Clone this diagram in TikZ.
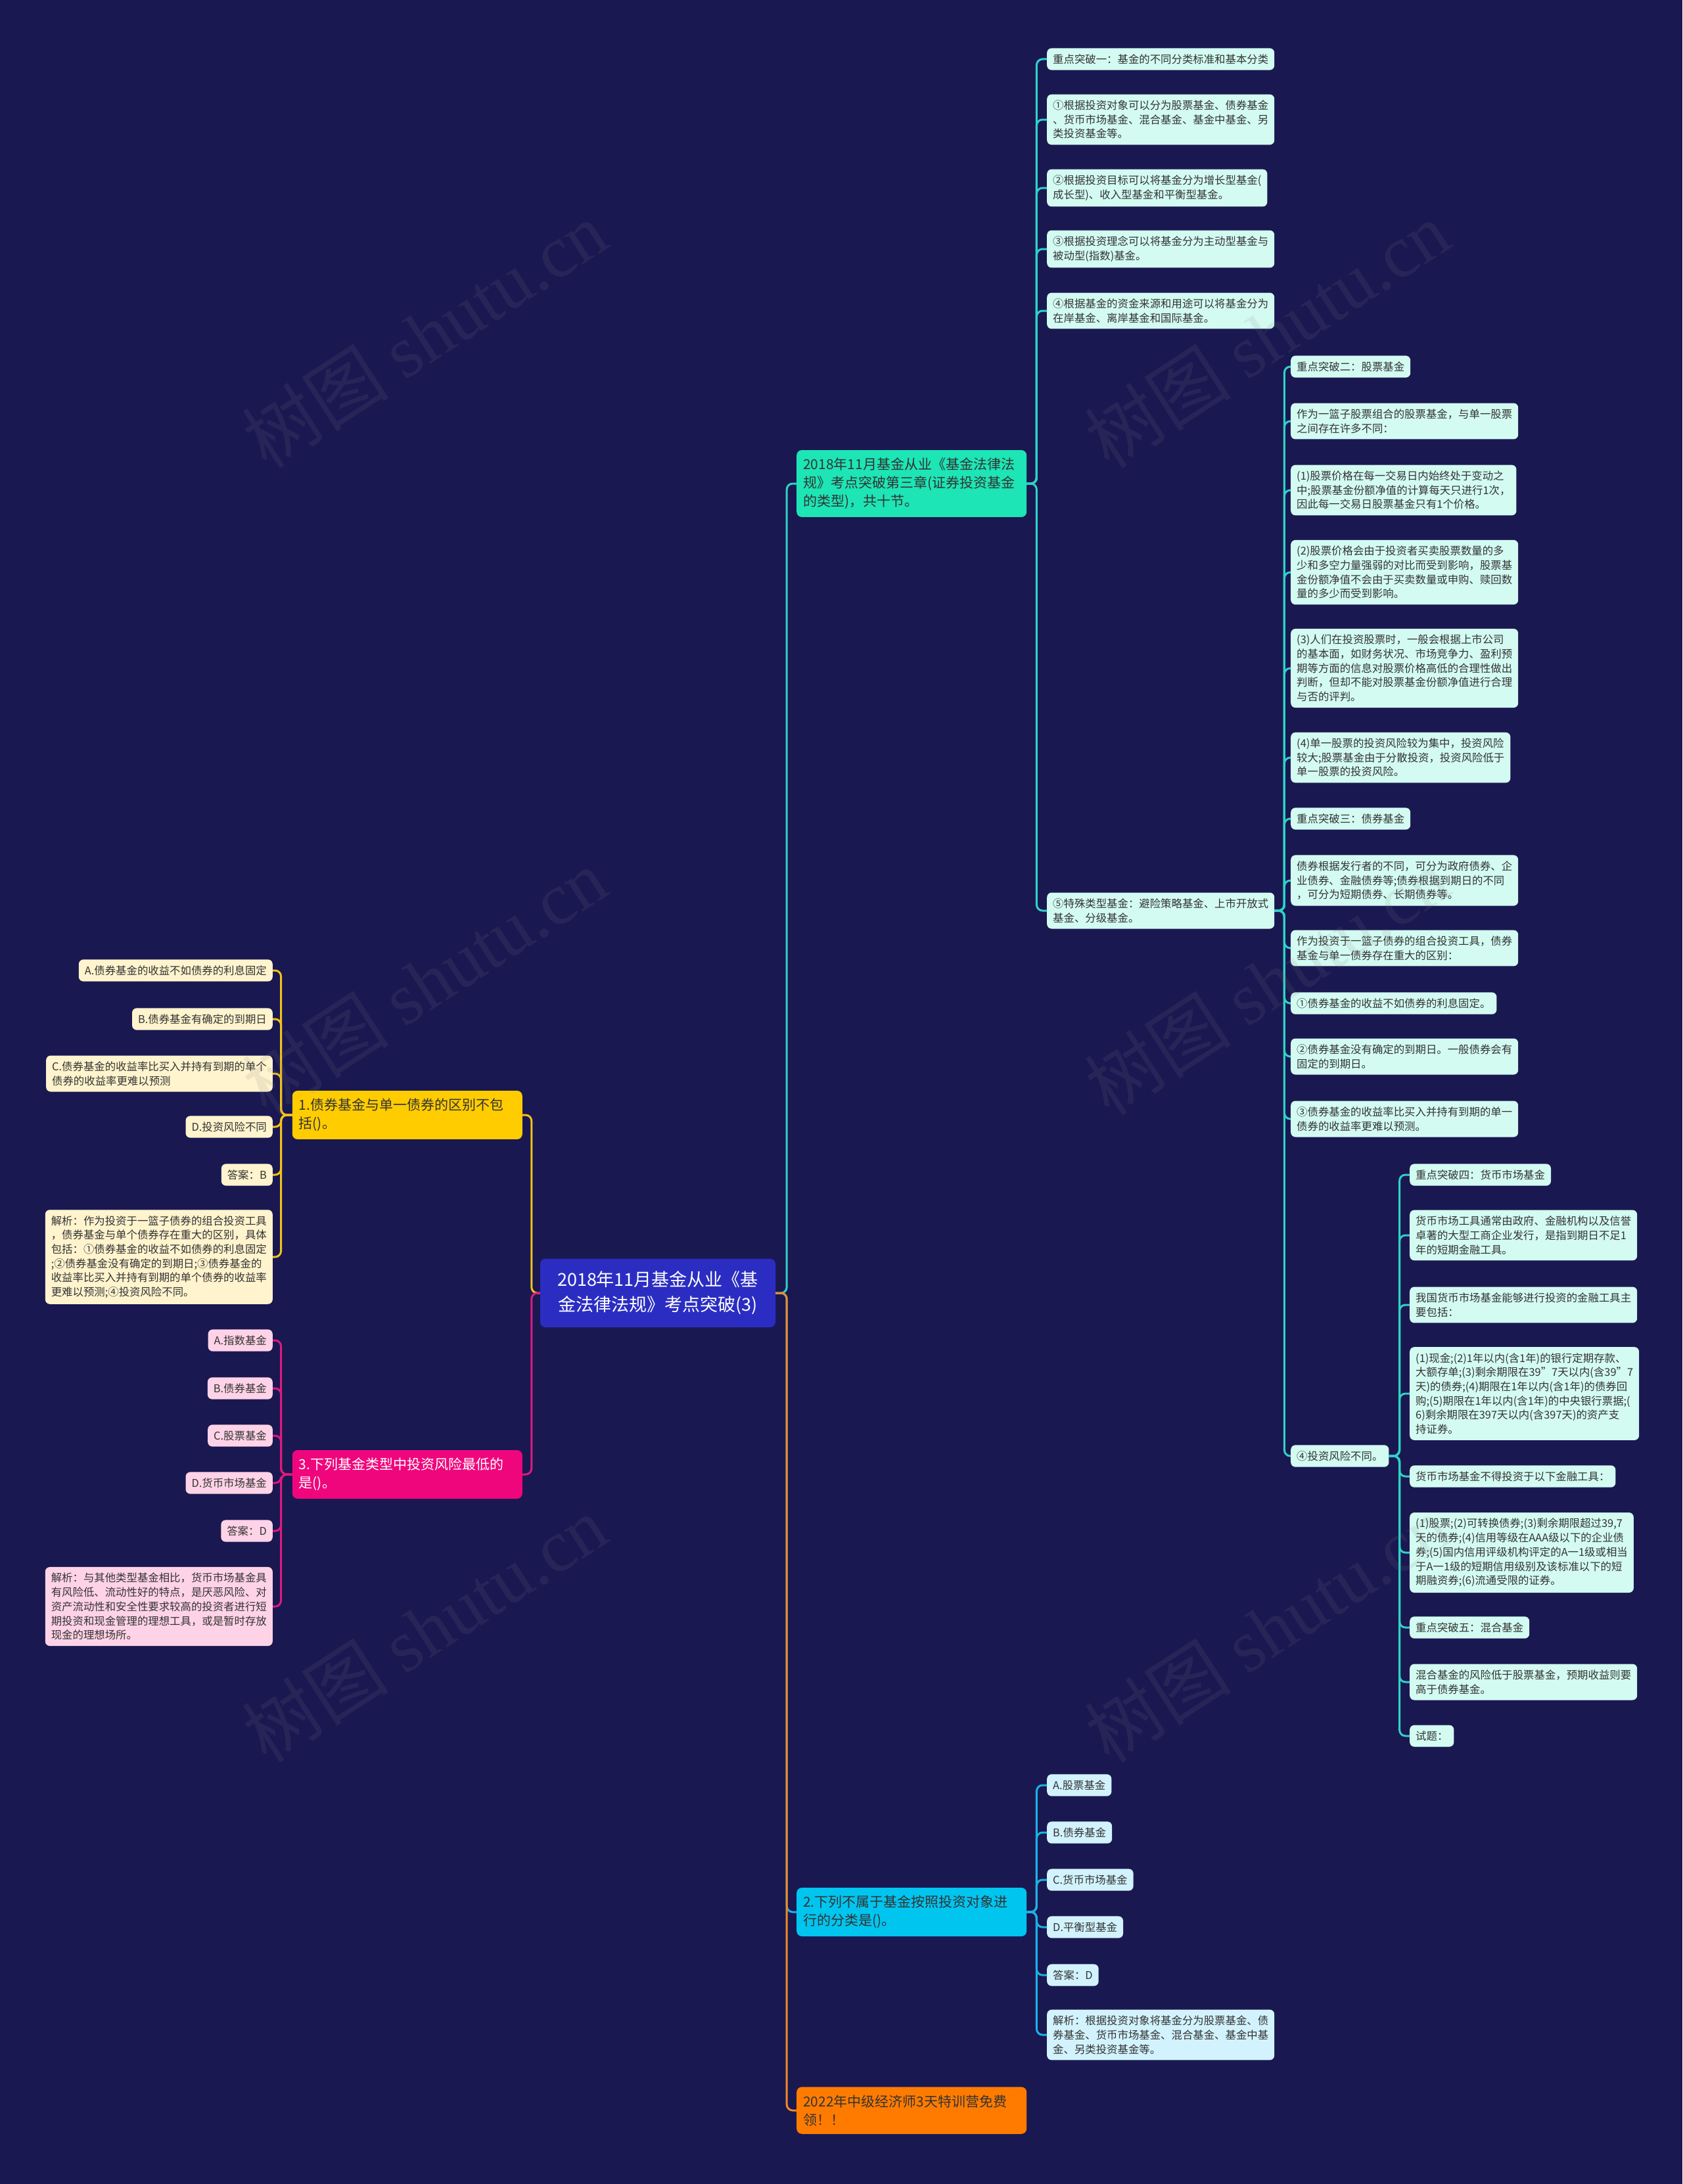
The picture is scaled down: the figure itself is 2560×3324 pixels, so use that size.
\documentclass[tikz,border=0pt]{standalone}
\usepackage{fontspec}
\setmainfont{Noto Sans CJK SC}
\newfontfamily\wmserif{Liberation Serif}

\definecolor{bg}{HTML}{1A1851}
\definecolor{ink}{HTML}{333333}
\definecolor{hubfill}{HTML}{2B2DC2}
\definecolor{tealfill}{HTML}{1DE5B5}
\definecolor{tealline}{HTML}{2ED3C6}
\definecolor{tealleaf}{HTML}{D3FBF2}
\definecolor{cyanfill}{HTML}{00C5EF}
\definecolor{cyanline}{HTML}{1BB2E6}
\definecolor{cyanleaf}{HTML}{D2F3FD}
\definecolor{orgfill}{HTML}{FF7B00}
\definecolor{orgline}{HTML}{F08A24}
\definecolor{yelfill}{HTML}{FFCC00}
\definecolor{yelline}{HTML}{F2C21A}
\definecolor{yelleaf}{HTML}{FFF4CE}
\definecolor{pnkfill}{HTML}{F0067C}
\definecolor{pnkline}{HTML}{DD1A7E}
\definecolor{pnkleaf}{HTML}{FFD3E7}

\begin{document}
\begin{tikzpicture}[
  x=1pt,y=-1pt,
  hub/.style={fill=hubfill,text=white,rounded corners=8pt,align=center,
              minimum width=358pt,inner ysep=19pt,
              font=\fontsize{27}{38}\selectfont},
  topic/.style={rounded corners=8pt,inner xsep=10pt,inner ysep=12pt,
                text width=330pt,align=left,text=ink,
                font=\fontsize{21}{28}\selectfont},
  topicT/.style={topic,fill=tealfill},
  topicC/.style={topic,fill=cyanfill},
  topicO/.style={topic,fill=orgfill},
  topicY/.style={topic,fill=yelfill},
  topicP/.style={topic,fill=pnkfill,text=white},
  leaf/.style={rounded corners=7pt,inner xsep=9pt,inner ysep=9pt,
               align=left,text=ink,font=\fontsize{16.4}{21.7}\selectfont},
  leafT/.style={leaf,fill=tealleaf},
  leafC/.style={leaf,fill=cyanleaf},
  leafY/.style={leaf,fill=yelleaf},
  leafP/.style={leaf,fill=pnkleaf},
  ln/.style={line width=3pt,rounded corners=9pt},
  lnT/.style={ln,draw=tealline},
  lnC/.style={ln,draw=cyanline},
  lnO/.style={ln,draw=orgline},
  lnY/.style={ln,draw=yelline},
  lnP/.style={ln,draw=pnkline},
  wm/.style={text=gray,opacity=0.13,rotate=33,font=\fontsize{112}{112}\selectfont},
]

\fill[bg] (0,0) rectangle (2560,3324);
\useasboundingbox (0,0) rectangle (2560,3324);

\node[hub] (hub) at (1001,1968)
  {2018年11月基金从业《基\\金法律法规》考点突破(3)};

% main topics
\node[topicT,anchor=west] (t1) at (1212,736)
  {2018年11月基金从业《基金法律法\\规》考点突破第三章(证券投资基金\\的类型)，共十节。};
\node[topicC,anchor=west] (t2) at (1212,2910)
  {2.下列不属于基金按照投资对象进\\行的分类是()。};
\node[topicO,anchor=west] (t3) at (1212,3212)
  {2022年中级经济师3天特训营免费\\领！！};
\node[topicY,anchor=east] (l1) at (795,1697)
  {1.债券基金与单一债券的区别不包\\括()。};
\node[topicP,anchor=east] (l2) at (795,2244)
  {3.下列基金类型中投资风险最低的\\是()。};

% chapter three, first level
\node[leafT,anchor=west] (t1a) at (1593,90) {重点突破一：基金的不同分类标准和基本分类};
\node[leafT,anchor=west] (t1b) at (1593,182)
  {①根据投资对象可以分为股票基金、债券基金\\、货币市场基金、混合基金、基金中基金、另\\类投资基金等。};
\node[leafT,anchor=west] (t1c) at (1593,286)
  {②根据投资目标可以将基金分为增长型基金(\\成长型)、收入型基金和平衡型基金。};
\node[leafT,anchor=west] (t1d) at (1593,379)
  {③根据投资理念可以将基金分为主动型基金与\\被动型(指数)基金。};
\node[leafT,anchor=west] (t1e) at (1593,473)
  {④根据基金的资金来源和用途可以将基金分为\\在岸基金、离岸基金和国际基金。};
\node[leafT,anchor=west] (t1f) at (1593,1386)
  {⑤特殊类型基金：避险策略基金、上市开放式\\基金、分级基金。};

% stock and bond funds
\node[leafT,anchor=west] (s1) at (1964,558) {重点突破二：股票基金};
\node[leafT,anchor=west] (s2) at (1964,641)
  {作为一篮子股票组合的股票基金，与单一股票\\之间存在许多不同：};
\node[leafT,anchor=west] (s3) at (1964,746)
  {(1)股票价格在每一交易日内始终处于变动之\\中;股票基金份额净值的计算每天只进行1次，\\因此每一交易日股票基金只有1个价格。};
\node[leafT,anchor=west] (s4) at (1964,871)
  {(2)股票价格会由于投资者买卖股票数量的多\\少和多空力量强弱的对比而受到影响，股票基\\金份额净值不会由于买卖数量或申购、赎回数\\量的多少而受到影响。};
\node[leafT,anchor=west] (s5) at (1964,1017)
  {(3)人们在投资股票时，一般会根据上市公司\\的基本面，如财务状况、市场竞争力、盈利预\\期等方面的信息对股票价格高低的合理性做出\\判断，但却不能对股票基金份额净值进行合理\\与否的评判。};
\node[leafT,anchor=west] (s6) at (1964,1153)
  {(4)单一股票的投资风险较为集中，投资风险\\较大;股票基金由于分散投资，投资风险低于\\单一股票的投资风险。};
\node[leafT,anchor=west] (s7) at (1964,1246) {重点突破三：债券基金};
\node[leafT,anchor=west] (s8) at (1964,1340)
  {债券根据发行者的不同，可分为政府债券、企\\业债券、金融债券等;债券根据到期日的不同\\，可分为短期债券、长期债券等。};
\node[leafT,anchor=west] (s9) at (1964,1443)
  {作为投资于一篮子债券的组合投资工具，债券\\基金与单一债券存在重大的区别：};
\node[leafT,anchor=west] (s10) at (1964,1527) {①债券基金的收益不如债券的利息固定。};
\node[leafT,anchor=west] (s11) at (1964,1608)
  {②债券基金没有确定的到期日。一般债券会有\\固定的到期日。};
\node[leafT,anchor=west] (s12) at (1964,1703)
  {③债券基金的收益率比买入并持有到期的单一\\债券的收益率更难以预测。};
\node[leafT,anchor=west] (s13) at (1964,2216) {④投资风险不同。};

% money market and hybrid funds
\node[leafT,anchor=west] (m1) at (2145,1788) {重点突破四：货币市场基金};
\node[leafT,anchor=west] (m2) at (2145,1880)
  {货币市场工具通常由政府、金融机构以及信誉\\卓著的大型工商企业发行，是指到期日不足1\\年的短期金融工具。};
\node[leafT,anchor=west] (m3) at (2145,1986)
  {我国货币市场基金能够进行投资的金融工具主\\要包括：};
\node[leafT,anchor=west] (m4) at (2145,2121)
  {(1)现金;(2)1年以内(含1年)的银行定期存款、\\大额存单;(3)剩余期限在39"7天以内(含39"7\\天)的债券;(4)期限在1年以内(含1年)的债券回\\购;(5)期限在1年以内(含1年)的中央银行票据;(\\6)剩余期限在397天以内(含397天)的资产支\\持证券。};
\node[leafT,anchor=west] (m5) at (2145,2247) {货币市场基金不得投资于以下金融工具：};
\node[leafT,anchor=west] (m6) at (2145,2363)
  {(1)股票;(2)可转换债券;(3)剩余期限超过39,7\\天的债券;(4)信用等级在AAA级以下的企业债\\券;(5)国内信用评级机构评定的A一1级或相当\\于A一1级的短期信用级别及该标准以下的短\\期融资券;(6)流通受限的证券。};
\node[leafT,anchor=west] (m7) at (2145,2477) {重点突破五：混合基金};
\node[leafT,anchor=west] (m8) at (2145,2560)
  {混合基金的风险低于股票基金，预期收益则要\\高于债券基金。};
\node[leafT,anchor=west] (m9) at (2145,2642) {试题：};

% question 2
\node[leafC,anchor=west] (q2a) at (1593,2717) {A.股票基金};
\node[leafC,anchor=west] (q2b) at (1593,2789) {B.债券基金};
\node[leafC,anchor=west] (q2c) at (1593,2861) {C.货币市场基金};
\node[leafC,anchor=west] (q2d) at (1593,2933) {D.平衡型基金};
\node[leafC,anchor=west] (q2k) at (1593,3006) {答案：D};
\node[leafC,anchor=west] (q2x) at (1593,3097)
  {解析：根据投资对象将基金分为股票基金、债\\券基金、货币市场基金、混合基金、基金中基\\金、另类投资基金等。};

% question 1
\node[leafY,anchor=east] (q1a) at (415,1477) {A.债券基金的收益不如债券的利息固定};
\node[leafY,anchor=east] (q1b) at (415,1551) {B.债券基金有确定的到期日};
\node[leafY,anchor=east] (q1c) at (415,1634)
  {C.债券基金的收益率比买入并持有到期的单个\\债券的收益率更难以预测};
\node[leafY,anchor=east] (q1d) at (415,1715) {D.投资风险不同};
\node[leafY,anchor=east] (q1k) at (415,1788) {答案：B};
\node[leafY,anchor=east] (q1x) at (415,1913)
  {解析：作为投资于一篮子债券的组合投资工具\\，债券基金与单个债券存在重大的区别，具体\\包括：①债券基金的收益不如债券的利息固定\\;②债券基金没有确定的到期日;③债券基金的\\收益率比买入并持有到期的单个债券的收益率\\更难以预测;④投资风险不同。};

% question 3
\node[leafP,anchor=east] (q3a) at (415,2040) {A.指数基金};
\node[leafP,anchor=east] (q3b) at (415,2113) {B.债券基金};
\node[leafP,anchor=east] (q3c) at (415,2185) {C.股票基金};
\node[leafP,anchor=east] (q3d) at (415,2257) {D.货币市场基金};
\node[leafP,anchor=east] (q3k) at (415,2330) {答案：D};
\node[leafP,anchor=east] (q3x) at (415,2445)
  {解析：与其他类型基金相比，货币市场基金具\\有风险低、流动性好的特点，是厌恶风险、对\\资产流动性和安全性要求较高的投资者进行短\\期投资和现金管理的理想工具，或是暂时存放\\现金的理想场所。};

% the trunk
\draw[lnT] (hub.east) -- ++(17,0) |- (t1.west);
\draw[lnC] (hub.east) -- ++(17,0) |- (t2.west);
\draw[lnO] (hub.east) -- ++(17,0) |- (t3.west);
\draw[lnY] (hub.west) -- ++(-13,0) |- (l1.east);
\draw[lnP] (hub.west) -- ++(-13,0) |- (l2.east);

% chapter three branches
\draw[lnT] (t1.east) -- ++(15,0) |- (t1a.west);
\draw[lnT] (t1.east) -- ++(15,0) |- (t1b.west);
\draw[lnT] (t1.east) -- ++(15,0) |- (t1c.west);
\draw[lnT] (t1.east) -- ++(15,0) |- (t1d.west);
\draw[lnT] (t1.east) -- ++(15,0) |- (t1e.west);
\draw[lnT] (t1.east) -- ++(15,0) |- (t1f.west);

\draw[lnT] (t1f.east) -- ++(15,0) |- (s1.west);
\draw[lnT] (t1f.east) -- ++(15,0) |- (s2.west);
\draw[lnT] (t1f.east) -- ++(15,0) |- (s3.west);
\draw[lnT] (t1f.east) -- ++(15,0) |- (s4.west);
\draw[lnT] (t1f.east) -- ++(15,0) |- (s5.west);
\draw[lnT] (t1f.east) -- ++(15,0) |- (s6.west);
\draw[lnT] (t1f.east) -- ++(15,0) |- (s7.west);
\draw[lnT] (t1f.east) -- ++(15,0) |- (s8.west);
\draw[lnT] (t1f.east) -- ++(15,0) |- (s9.west);
\draw[lnT] (t1f.east) -- ++(15,0) |- (s10.west);
\draw[lnT] (t1f.east) -- ++(15,0) |- (s11.west);
\draw[lnT] (t1f.east) -- ++(15,0) |- (s12.west);
\draw[lnT] (t1f.east) -- ++(15,0) |- (s13.west);

\draw[lnT] (s13.east) -- ++(16,0) |- (m1.west);
\draw[lnT] (s13.east) -- ++(16,0) |- (m2.west);
\draw[lnT] (s13.east) -- ++(16,0) |- (m3.west);
\draw[lnT] (s13.east) -- ++(16,0) |- (m4.west);
\draw[lnT] (s13.east) -- ++(16,0) |- (m5.west);
\draw[lnT] (s13.east) -- ++(16,0) |- (m6.west);
\draw[lnT] (s13.east) -- ++(16,0) |- (m7.west);
\draw[lnT] (s13.east) -- ++(16,0) |- (m8.west);
\draw[lnT] (s13.east) -- ++(16,0) |- (m9.west);

% the three questions
\draw[lnC] (t2.east) -- ++(15,0) |- (q2a.west);
\draw[lnC] (t2.east) -- ++(15,0) |- (q2b.west);
\draw[lnC] (t2.east) -- ++(15,0) |- (q2c.west);
\draw[lnC] (t2.east) -- ++(15,0) |- (q2d.west);
\draw[lnC] (t2.east) -- ++(15,0) |- (q2k.west);
\draw[lnC] (t2.east) -- ++(15,0) |- (q2x.west);

\draw[lnY] (l1.west) -- ++(-17,0) |- (q1a.east);
\draw[lnY] (l1.west) -- ++(-17,0) |- (q1b.east);
\draw[lnY] (l1.west) -- ++(-17,0) |- (q1c.east);
\draw[lnY] (l1.west) -- ++(-17,0) |- (q1d.east);
\draw[lnY] (l1.west) -- ++(-17,0) |- (q1k.east);
\draw[lnY] (l1.west) -- ++(-17,0) |- (q1x.east);

\draw[lnP] (l2.west) -- ++(-17,0) |- (q3a.east);
\draw[lnP] (l2.west) -- ++(-17,0) |- (q3b.east);
\draw[lnP] (l2.west) -- ++(-17,0) |- (q3c.east);
\draw[lnP] (l2.west) -- ++(-17,0) |- (q3d.east);
\draw[lnP] (l2.west) -- ++(-17,0) |- (q3k.east);
\draw[lnP] (l2.west) -- ++(-17,0) |- (q3x.east);

% watermark
\node[wm] (wm1) at (646,509)   {树图 {\wmserif shutu.cn}};
\node[wm] (wm2) at (1928,509)  {树图 {\wmserif shutu.cn}};
\node[wm] (wm3) at (646,1494)  {树图 {\wmserif shutu.cn}};
\node[wm] (wm4) at (1928,1494) {树图 {\wmserif shutu.cn}};
\node[wm] (wm5) at (646,2479)  {树图 {\wmserif shutu.cn}};
\node[wm] (wm6) at (1928,2479) {树图 {\wmserif shutu.cn}};

\end{tikzpicture}
\end{document}
